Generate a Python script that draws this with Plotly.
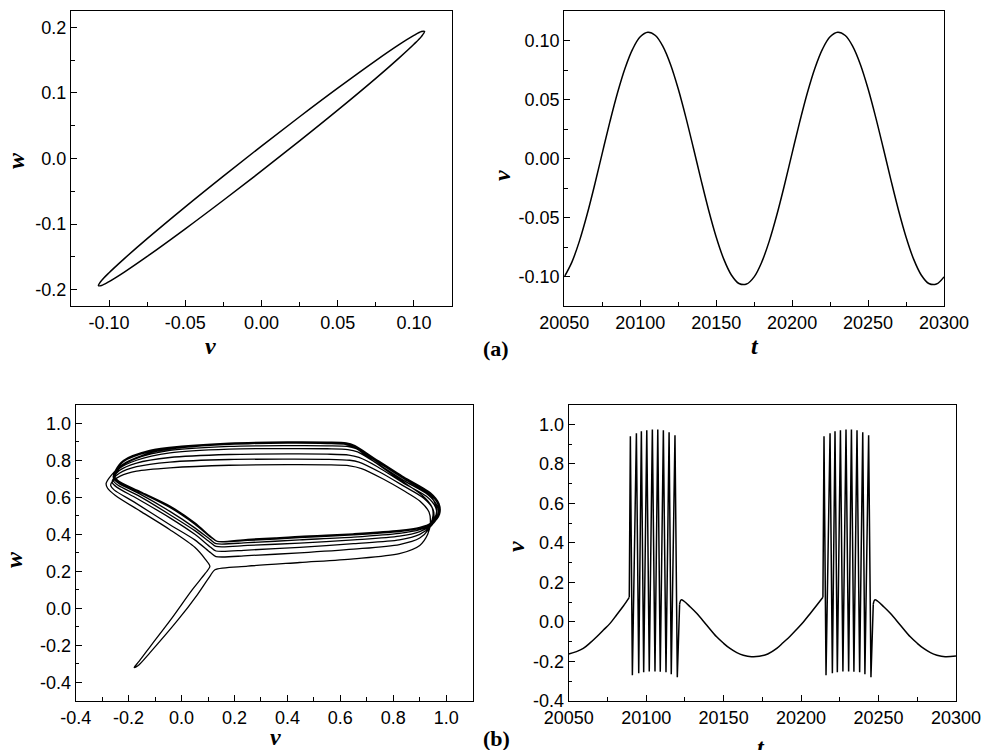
import plotly.graph_objects as go

# ---------------- (a) phase portrait (v, w) ----------------
A_PHASE_V = [-0.107, -0.105, -0.100, -0.090, -0.075, -0.050, -0.025, 0.000, 0.025, 0.050, 0.075, 0.090, 0.100, 0.105, 0.107,
             0.105, 0.100, 0.090, 0.075, 0.050, 0.025, 0.000, -0.025, -0.050, -0.075, -0.090, -0.100, -0.105, -0.107]
A_PHASE_W = [-0.194, -0.1863, -0.1742, -0.1527, -0.1222, -0.0737, -0.0268, 0.019, 0.0637, 0.1073, 0.1494, 0.1733, 0.1878, 0.1937, 0.194,
             0.1863, 0.1742, 0.1527, 0.1222, 0.0737, 0.0268, -0.019, -0.0637, -0.1073, -0.1494, -0.1733, -0.1878, -0.1937, -0.194]

# ---------------- (a) time series v(t) ----------------
A_T = [20050, 20055, 20060, 20065, 20070, 20075, 20080, 20085, 20090, 20095, 20100, 20105, 20110, 20115, 20120, 20125,
       20130, 20135, 20140, 20145, 20150, 20155, 20160, 20165, 20170, 20175, 20180, 20185, 20190, 20195, 20200, 20205,
       20210, 20215, 20220, 20225, 20230, 20235, 20240, 20245, 20250, 20255, 20260, 20265, 20270, 20275, 20280, 20285,
       20290, 20295, 20300]
A_V = [-0.1003, -0.0878, -0.0698, -0.0475, -0.0222, 0.0046, 0.0310, 0.0555, 0.0765, 0.0927, 0.1031, 0.1070, 0.1042,
       0.0948, 0.0795, 0.0591, 0.0351, 0.0089, -0.0179, -0.0436, -0.0665, -0.0853, -0.0987, -0.1059, -0.1064, -0.1003,
       -0.0878, -0.0698, -0.0475, -0.0222, 0.0046, 0.0310, 0.0555, 0.0765, 0.0927, 0.1031, 0.1070, 0.1042, 0.0948,
       0.0795, 0.0591, 0.0351, 0.0089, -0.0179, -0.0436, -0.0665, -0.0853, -0.0987, -0.1059, -0.1064, -0.1003]

# ---------------- (b) phase portrait (v, w) ----------------
B_TAIL_UP = [(-0.179, -0.319), (-0.165, -0.31), (-0.12, -0.24), (-0.013, -0.061), (0.06, 0.075), (0.11, 0.18), (0.126, 0.209)]
B_LOOPS = [
    [(0.25, 0.228), (0.446, 0.248), (0.65, 0.268), (0.823, 0.296), (0.90, 0.34), (0.93, 0.40), (0.94, 0.46), (0.935, 0.52),
     (0.90, 0.58), (0.84, 0.635), (0.76, 0.70), (0.68, 0.755), (0.635, 0.77), (0.55, 0.775), (0.40, 0.776), (0.18, 0.773),
     (-0.044, 0.759), (-0.17, 0.741), (-0.232, 0.714), (-0.262, 0.685), (-0.268, 0.665), (-0.255, 0.64), (-0.18, 0.575),
     (-0.044, 0.452), (0.05, 0.37), (0.11, 0.30), (0.13, 0.28)],
    [(0.25, 0.285), (0.446, 0.30), (0.65, 0.32), (0.823, 0.345), (0.90, 0.38), (0.935, 0.43), (0.952, 0.48), (0.95, 0.535),
     (0.915, 0.595), (0.84, 0.66), (0.75, 0.735), (0.67, 0.79), (0.635, 0.80), (0.55, 0.805), (0.40, 0.806), (0.18, 0.804),
     (-0.044, 0.79), (-0.17, 0.765), (-0.235, 0.73), (-0.258, 0.70), (-0.262, 0.68), (-0.245, 0.655), (-0.17, 0.595),
     (-0.044, 0.489), (0.05, 0.40), (0.11, 0.33), (0.13, 0.31)],
    [(0.25, 0.315), (0.446, 0.33), (0.65, 0.35), (0.823, 0.37), (0.90, 0.40), (0.94, 0.44), (0.962, 0.49), (0.96, 0.545),
     (0.925, 0.605), (0.84, 0.675), (0.74, 0.765), (0.67, 0.815), (0.632, 0.828), (0.55, 0.833), (0.40, 0.834), (0.18, 0.831),
     (-0.044, 0.815), (-0.17, 0.785), (-0.235, 0.745), (-0.255, 0.71), (-0.258, 0.69), (-0.24, 0.665), (-0.165, 0.61),
     (-0.044, 0.506), (0.05, 0.42), (0.11, 0.355), (0.13, 0.335)],
    [(0.25, 0.34), (0.446, 0.353), (0.65, 0.37), (0.823, 0.39), (0.90, 0.415), (0.945, 0.45), (0.968, 0.50), (0.965, 0.555),
     (0.93, 0.615), (0.84, 0.69), (0.73, 0.79), (0.665, 0.845), (0.628, 0.858), (0.55, 0.862), (0.40, 0.863), (0.18, 0.86),
     (-0.044, 0.84), (-0.17, 0.80), (-0.235, 0.755), (-0.252, 0.72), (-0.255, 0.70), (-0.237, 0.675), (-0.16, 0.62),
     (-0.044, 0.524), (0.05, 0.435), (0.11, 0.37), (0.13, 0.35)],
    [(0.25, 0.355), (0.446, 0.37), (0.65, 0.385), (0.823, 0.405), (0.90, 0.425), (0.945, 0.455), (0.972, 0.505), (0.97, 0.56),
     (0.935, 0.62), (0.84, 0.70), (0.725, 0.805), (0.66, 0.862), (0.625, 0.875), (0.55, 0.878), (0.40, 0.879), (0.18, 0.875),
     (-0.044, 0.853), (-0.17, 0.81), (-0.235, 0.76), (-0.25, 0.725), (-0.253, 0.705), (-0.235, 0.68), (-0.155, 0.625),
     (-0.044, 0.545), (0.05, 0.455), (0.11, 0.385), (0.135, 0.362)],
    [(0.25, 0.367), (0.446, 0.382), (0.65, 0.397), (0.823, 0.415), (0.90, 0.432), (0.948, 0.46), (0.975, 0.51), (0.973, 0.565),
     (0.94, 0.625), (0.84, 0.705), (0.72, 0.815), (0.655, 0.875), (0.622, 0.89), (0.55, 0.894), (0.40, 0.895), (0.18, 0.889),
     (0.0, 0.872), (-0.12, 0.849), (-0.22, 0.795), (-0.248, 0.74), (-0.252, 0.71), (-0.235, 0.685), (-0.155, 0.628),
     (-0.044, 0.551), (0.05, 0.46), (0.11, 0.387), (0.135, 0.362)],
    [(0.25, 0.37), (0.446, 0.385), (0.65, 0.40), (0.823, 0.418), (0.90, 0.435), (0.946, 0.462), (0.97, 0.51), (0.968, 0.565),
     (0.935, 0.628), (0.84, 0.709), (0.72, 0.819), (0.655, 0.879), (0.622, 0.894), (0.55, 0.898), (0.40, 0.899), (0.18, 0.893),
     (0.0, 0.876), (-0.12, 0.853), (-0.22, 0.799), (-0.25, 0.744), (-0.255, 0.712), (-0.237, 0.686), (-0.155, 0.63),
     (-0.044, 0.553), (0.05, 0.462), (0.11, 0.388), (0.135, 0.362)],
    [(0.25, 0.373), (0.446, 0.388), (0.65, 0.403), (0.823, 0.421), (0.90, 0.438), (0.944, 0.463), (0.962, 0.508), (0.96, 0.56),
     (0.93, 0.622), (0.84, 0.70), (0.72, 0.812), (0.655, 0.872), (0.622, 0.887), (0.55, 0.892), (0.40, 0.893), (0.18, 0.887),
     (0.0, 0.870), (-0.12, 0.846), (-0.22, 0.792), (-0.252, 0.738), (-0.258, 0.708), (-0.24, 0.683), (-0.157, 0.627),
     (-0.044, 0.549), (0.05, 0.459), (0.11, 0.386), (0.135, 0.362)],
    [(0.25, 0.37), (0.446, 0.389), (0.65, 0.40), (0.823, 0.418), (0.90, 0.435), (0.94, 0.46), (0.95, 0.50), (0.945, 0.55),
     (0.91, 0.61), (0.83, 0.69), (0.72, 0.80), (0.655, 0.868), (0.622, 0.885), (0.55, 0.89), (0.40, 0.892), (0.18, 0.886),
     (0.0, 0.868), (-0.12, 0.84), (-0.22, 0.78), (-0.265, 0.72), (-0.285, 0.675), (-0.28, 0.65), (-0.25, 0.61),
     (-0.15, 0.52), (-0.044, 0.425), (0.05, 0.33), (0.09, 0.265), (0.107, 0.227)],
]
B_TAIL_DOWN = [(0.09, 0.19), (0.04, 0.10), (-0.038, -0.055), (-0.11, -0.19), (-0.16, -0.285), (-0.179, -0.319)]

# ---------------- (b) time series v(t) ----------------
B_Q1_T = [20050, 20055.0, 20059.4, 20063.8, 20068.1, 20072.4, 20076.7, 20081.0, 20085.3, 20089.1]
B_Q1_V = [-0.162, -0.150, -0.134, -0.106, -0.075, -0.041, -0.007, 0.037, 0.081, 0.125]
B_S1_T = [20089.1, 20089.8, 20091.1, 20093.7, 20095.2, 20096.9, 20098.4, 20100.4, 20102.0, 20104.0, 20105.7, 20107.5,
          20109.1, 20111.1, 20112.8, 20114.8, 20116.2, 20118.6, 20120.1, 20120.9, 20121.6]
B_S1_V = [0.125, 0.94, -0.27, 0.955, -0.26, 0.965, -0.255, 0.97, -0.25, 0.975, -0.25, 0.975,
          -0.252, 0.97, -0.255, 0.96, -0.265, 0.945, -0.28, 0.0, 0.09]
B_Q2_T = [20121.6, 20122.6, 20124.5, 20128.5, 20132.6, 20139.0, 20145.5, 20150.0, 20154.1, 20158.5, 20162.7, 20168.0,
          20173.0, 20178.5, 20184.3, 20188.5, 20192.9, 20197.2, 20201.5, 20205.8, 20210.1, 20214.1]
B_Q2_V = [0.09, 0.112, 0.105, 0.076, 0.044, -0.015, -0.075, -0.108, -0.134, -0.155, -0.168, -0.176,
          -0.174, -0.162, -0.134, -0.104, -0.072, -0.037, 0.000, 0.042, 0.085, 0.125]
B_S2_T = [20214.1, 20214.8, 20216.1, 20218.7, 20220.2, 20221.9, 20223.4, 20225.4, 20227.0, 20229.0, 20230.7, 20232.5,
          20234.1, 20236.1, 20237.8, 20239.8, 20241.2, 20243.6, 20245.1, 20245.9, 20246.6]
B_S2_V = [0.125, 0.94, -0.27, 0.955, -0.26, 0.965, -0.255, 0.97, -0.25, 0.975, -0.25, 0.975,
          -0.252, 0.97, -0.255, 0.96, -0.265, 0.945, -0.28, 0.0, 0.09]
B_Q3_T = [20246.6, 20247.6, 20249.5, 20253.5, 20257.6, 20264.0, 20270.5, 20275.0, 20279.1, 20283.5, 20287.7, 20293.0,
          20300]
B_Q3_V = [0.09, 0.112, 0.105, 0.076, 0.044, -0.015, -0.075, -0.108, -0.134, -0.155, -0.168, -0.176, -0.172]

# ---------------- tick labels ----------------
AL_XTICKS = [-0.10, -0.05, 0.00, 0.05, 0.10]
AL_XTEXT = ["-0.10", "-0.05", "0.00", "0.05", "0.10"]
AL_YTICKS = [-0.2, -0.1, 0.0, 0.1, 0.2]
AL_YTEXT = ["-0.2", "-0.1", "0.0", "0.1", "0.2"]
T_TICKS = [20050, 20100, 20150, 20200, 20250, 20300]
T_TEXT = ["20050", "20100", "20150", "20200", "20250", "20300"]
AR_YTICKS = [-0.10, -0.05, 0.00, 0.05, 0.10]
AR_YTEXT = ["-0.10", "-0.05", "0.00", "0.05", "0.10"]
BL_XTICKS = [-0.4, -0.2, 0.0, 0.2, 0.4, 0.6, 0.8, 1.0]
BL_XTEXT = ["-0.4", "-0.2", "0.0", "0.2", "0.4", "0.6", "0.8", "1.0"]
B_YTICKS = [-0.4, -0.2, 0.0, 0.2, 0.4, 0.6, 0.8, 1.0]
B_YTEXT = ["-0.4", "-0.2", "0.0", "0.2", "0.4", "0.6", "0.8", "1.0"]

W, H = 982, 750
LINE = dict(color="black", width=1.5)

fig = go.Figure()
fig.add_trace(go.Scatter(x=A_PHASE_V, y=A_PHASE_W, mode="lines", line=dict(shape="spline", smoothing=1, **LINE),
                         xaxis="x", yaxis="y"))
fig.add_trace(go.Scatter(x=A_T, y=A_V, mode="lines", line=dict(shape="spline", smoothing=1, **LINE),
                         xaxis="x2", yaxis="y2"))

pts = list(B_TAIL_UP)
for loop in B_LOOPS:
    pts.extend(loop)
pts.extend(B_TAIL_DOWN)
fig.add_trace(go.Scatter(x=[p[0] for p in pts], y=[p[1] for p in pts], mode="lines",
                         line=dict(shape="spline", smoothing=0.8, color="black", width=1.3),
                         xaxis="x3", yaxis="y3"))

for tt, vv, shp in [(B_Q1_T, B_Q1_V, "spline"), (B_S1_T, B_S1_V, "linear"), (B_Q2_T, B_Q2_V, "spline"),
                    (B_S2_T, B_S2_V, "linear"), (B_Q3_T, B_Q3_V, "spline")]:
    fig.add_trace(go.Scatter(x=tt, y=vv, mode="lines", line=dict(shape=shp, color="black", width=1.5),
                             xaxis="x4", yaxis="y4"))

TICKFONT = dict(family="Liberation Sans, Arial, sans-serif", size=18, color="black")


def ax(domain, rng, tickvals, ticktext, minor_dtick, minor_tick0, anchor):
    return dict(domain=domain, range=rng, tickvals=tickvals, ticktext=ticktext, anchor=anchor,
                automargin=False,
                showline=True, linecolor="black", linewidth=1.2, mirror=True,
                ticks="inside", ticklen=6, tickwidth=1.2, tickcolor="black",
                showgrid=False, zeroline=False, tickfont=TICKFONT,
                minor=dict(ticks="inside", ticklen=3.5, tickwidth=1, tickcolor="black",
                           dtick=minor_dtick, tick0=minor_tick0, showgrid=False))


def xd(a, b):
    return [a / W, b / W]


def yd(top, bottom):
    return [1 - bottom / H, 1 - top / H]


fig.update_layout(
    width=W, height=H, margin=dict(l=0, r=0, t=0, b=0, pad=0, autoexpand=False),
    paper_bgcolor="white", plot_bgcolor="white", showlegend=False,
    xaxis=ax(xd(71, 452), [-0.125, 0.125], AL_XTICKS, AL_XTEXT, 0.025, 0, "y"),
    yaxis=ax(yd(11, 306), [-0.225, 0.225], AL_YTICKS, AL_YTEXT, 0.05, 0, "x"),
    xaxis2=ax(xd(564.3, 944), [20050, 20300], T_TICKS, T_TEXT, 25, 20050, "y2"),
    yaxis2=ax(yd(11, 306), [-0.125, 0.125], AR_YTICKS, AR_YTEXT, 0.025, 0, "x2"),
    xaxis3=ax(xd(75.7, 472.7), [-0.4, 1.1], BL_XTICKS, BL_XTEXT, 0.1, 0, "y3"),
    yaxis3=ax(yd(404.7, 701), [-0.5, 1.1], B_YTICKS, B_YTEXT, 0.1, 0, "x3"),
    xaxis4=ax(xd(568.7, 956), [20050, 20300], T_TICKS, T_TEXT, 25, 20050, "y4"),
    yaxis4=ax(yd(404.7, 701), [-0.4, 1.1], B_YTICKS, B_YTEXT, 0.1, 0, "x4"),
)

TITLEFONT = dict(family="Liberation Serif, Times New Roman, serif", size=24, color="black")
LABELFONT = dict(family="Liberation Serif, Times New Roman, serif", size=22, color="black")


def note(text, px, py, angle=0, font=TITLEFONT):
    fig.add_annotation(text=text, x=px / W, y=1 - py / H, xref="paper", yref="paper",
                       xanchor="center", yanchor="middle", showarrow=False, textangle=angle, font=font)


note("<b><i>w</i></b>", 16, 160, -90)
note("<b><i>v</i></b>", 210, 346)
note("<b><i>v</i></b>", 502, 176, -90)
note("<b><i>t</i></b>", 755, 346)
note("<b>(a)</b>", 496, 348, font=LABELFONT)
note("<b><i>w</i></b>", 14, 560, -90)
note("<b><i>v</i></b>", 275, 737)
note("<b><i>v</i></b>", 516, 547, -90)
note("<b><i>t</i></b>", 761, 747)
note("<b>(b)</b>", 496, 738, font=LABELFONT)

fig.write_html("out.html")
